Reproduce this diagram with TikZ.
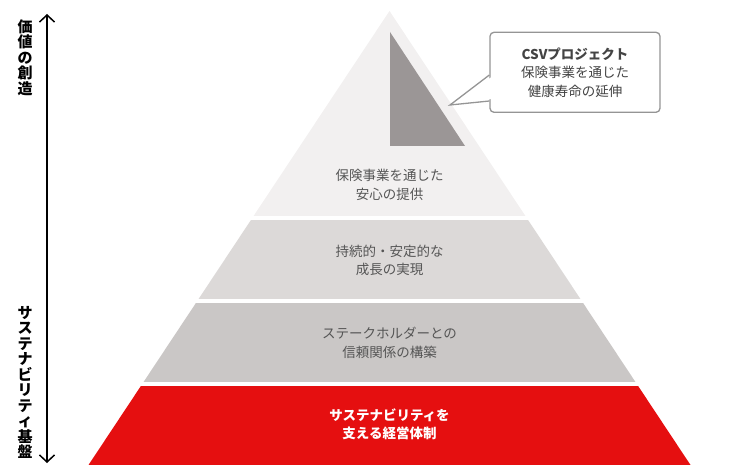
\documentclass[tikz,border=0pt]{standalone}
\usepackage{fontspec}
\setmainfont{Noto Sans CJK JP}
\usetikzlibrary{arrows.meta}
\definecolor{tierA}{HTML}{F2F0F0}
\definecolor{tierB}{HTML}{DCD9D8}
\definecolor{tierC}{HTML}{CAC7C6}
\definecolor{tierD}{HTML}{E50F10}
\definecolor{peak}{HTML}{9B9696}
\definecolor{textgray}{HTML}{555555}
\definecolor{notegray}{HTML}{444444}
\definecolor{boxgray}{HTML}{959595}

\begin{document}
\begin{tikzpicture}[x=1pt,y=-1pt,>={Straight Barb[length=7pt,width=15pt]}]
  \tikzstyle{tier text}=[align=center,text=textgray,font=\fontsize{13.5}{18.5}\selectfont]
  \tikzstyle{red text}=[tier text,text=white,font=\bfseries\fontsize{13.5}{18.5}\selectfont]
  \tikzstyle{side label}=[align=center,font=\bfseries\fontsize{15}{15.5}\selectfont]
  \tikzstyle{note box}=[draw=boxgray,line width=1.3pt,rounded corners=4pt,fill=white,
                        minimum width=170pt,minimum height=80pt,align=center,
                        text=notegray,font=\fontsize{13.5}{18.5}\selectfont]
  \useasboundingbox (0,0) rectangle (730,465);
  \begin{scope}
    \clip (389.5,11) -- (690.5,465) -- (88.5,465) -- cycle;
    \fill[tierA] (0,0) rectangle (730,215.7);
    \fill[tierB] (0,220) rectangle (730,298.7);
    \fill[tierC] (0,303.3) rectangle (730,381.7);
    \fill[tierD] (0,385.7) rectangle (730,465);
  \end{scope}
  \fill[peak] (390,32) -- (465,146) -- (390,146) -- cycle;
  \node [tier text] (safety) at (389.5,185) {保険事業を通じた\\安心の提供};
  \node [tier text] (growth) at (389.5,260.5) {持続的・安定的な\\成長の実現};
  \node [tier text] (trust) at (389.5,343) {ステークホルダーとの\\信頼関係の構築};
  \node [red text] (base) at (389.5,424.5) {サステナビリティを\\支える経営体制};
  \node [note box] (csv) at (575,72.3) {\textbf{CSVプロジェクト}\\保険事業を通じた\\健康寿命の延伸};
  \coordinate (tip) at (450,105);
  \fill[white] (491.5,77) -- (tip) -- (491.5,99) -- cycle;
  \draw[boxgray,line width=1.3pt,line join=miter] (csv.west |- 0,75) -- (tip) -- (csv.west |- 0,101);
  \node [side label] (value) at (25,57.5) {価\\値\\の\\創\\造};
  \node [side label] (sustain) at (25,382.5) {サ\\ス\\テ\\ナ\\ビ\\リ\\テ\\ィ\\基\\盤};
  \coordinate (vtop) at (47,14);
  \coordinate (vbot) at (47,463);
  \draw[<->,line width=1.5pt] (vtop) -- (vbot);
\end{tikzpicture}
\end{document}
